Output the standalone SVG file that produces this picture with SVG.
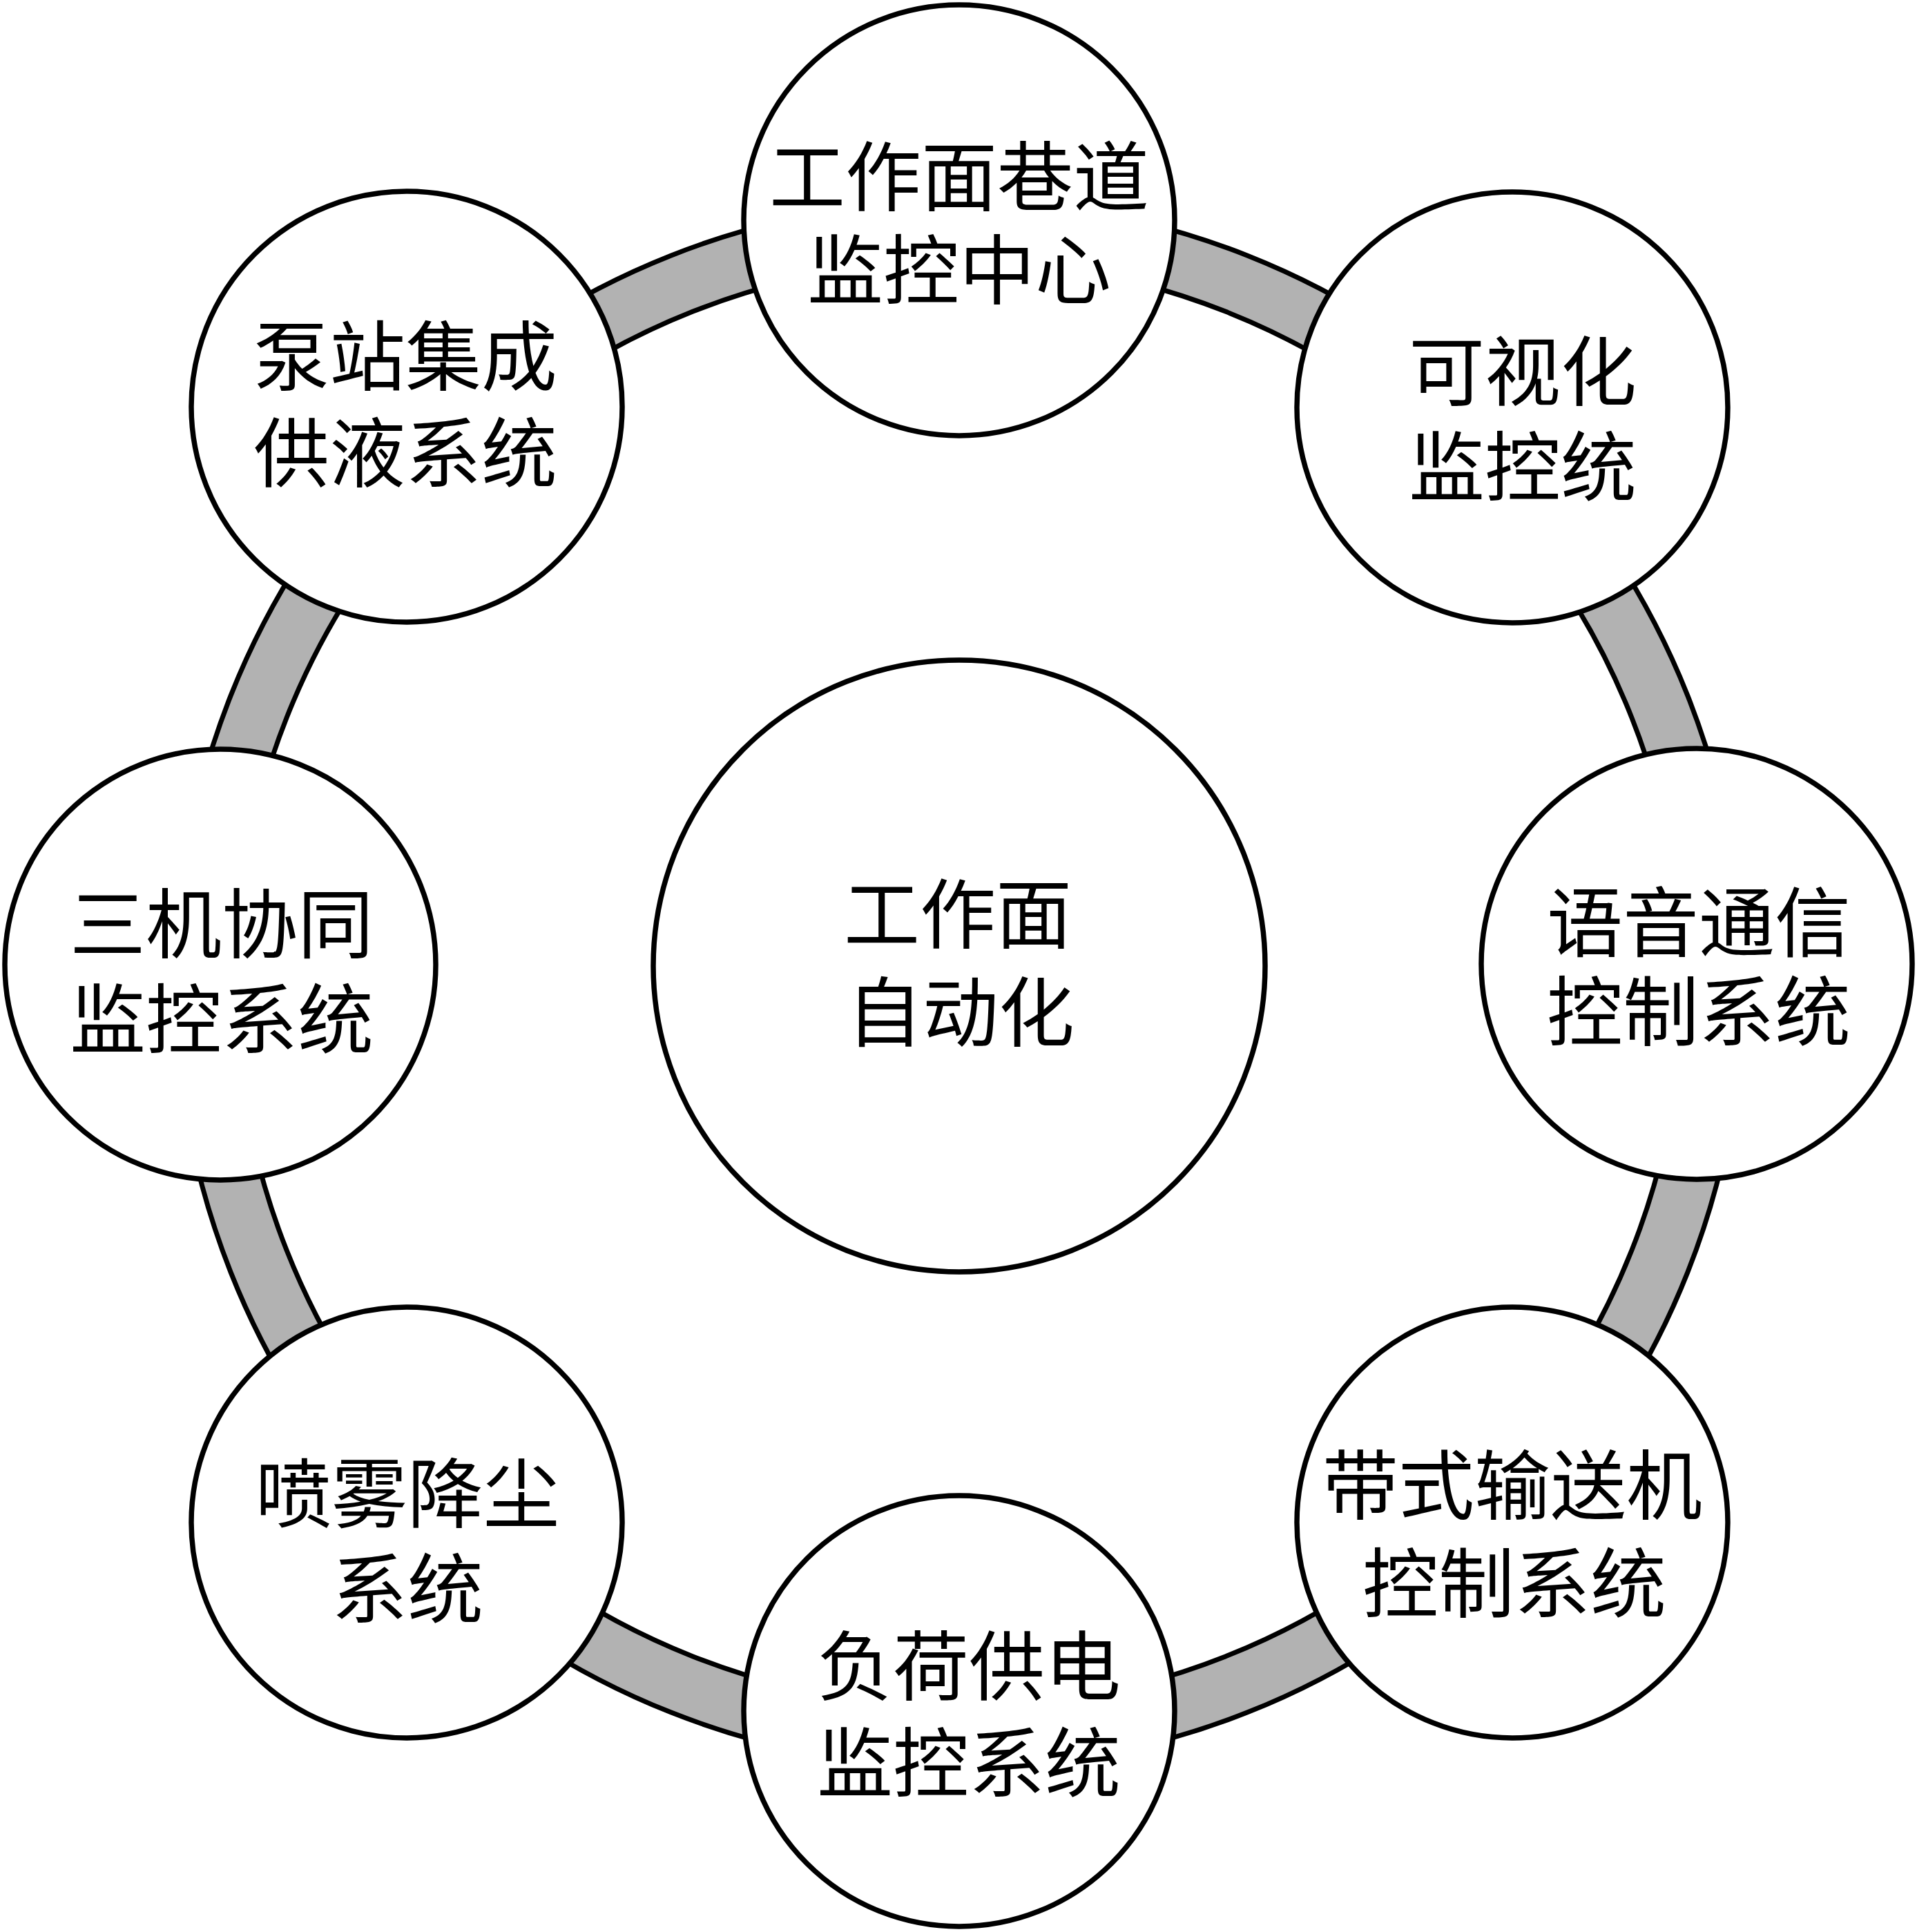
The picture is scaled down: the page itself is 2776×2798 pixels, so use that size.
<svg xmlns="http://www.w3.org/2000/svg" width="2776" height="2798" viewBox="0 0 2776 2798">
<style>
.node circle{fill:#ffffff;stroke:#000000;stroke-width:7.5}
text{font-family:"Liberation Serif","Noto Sans CJK SC","Noto Sans CJK TC",serif;font-size:110px;text-anchor:middle;fill:#000000}
</style>
<rect x="0" y="0" width="2776" height="2798" fill="#ffffff"/>
<g id="connectors">
<circle cx="1389" cy="1425" r="1091" fill="none" stroke="#000000" stroke-width="94"/>
<circle cx="1389" cy="1425" r="1091" fill="none" stroke="#b2b2b2" stroke-width="80"/>
</g>
<g id="node-center" class="node">
<circle cx="1389" cy="1399" r="443"/>
<text><tspan x="1387" y="1365">工作面</tspan><tspan x="1391" y="1507">自动化</tspan></text>
</g>
<g id="node-top" class="node">
<circle cx="1389" cy="319" r="312"/>
<text><tspan x="1389" y="297">工作面巷道</tspan><tspan x="1389" y="432">监控中心</tspan></text>
</g>
<g id="node-top-right" class="node">
<circle cx="2190" cy="590" r="312"/>
<text><tspan x="2205" y="579">可视化</tspan><tspan x="2205" y="717">监控统</tspan></text>
</g>
<g id="node-right" class="node">
<circle cx="2457" cy="1396" r="312"/>
<text><tspan x="2460" y="1377">语音通信</tspan><tspan x="2460" y="1506">控制系统</tspan></text>
</g>
<g id="node-bottom-right" class="node">
<circle cx="2190" cy="2205" r="312"/>
<text><tspan x="2190" y="2192">带式输送机</tspan><tspan x="2193" y="2334">控制系统</tspan></text>
</g>
<g id="node-bottom" class="node">
<circle cx="1389" cy="2478" r="312"/>
<text><tspan x="1403" y="2454">负荷供电</tspan><tspan x="1403" y="2594">监控系统</tspan></text>
</g>
<g id="node-bottom-left" class="node">
<circle cx="589" cy="2205" r="312"/>
<text><tspan x="590" y="2204">喷雾降尘</tspan><tspan x="590" y="2342">系统</tspan></text>
</g>
<g id="node-left" class="node">
<circle cx="319" cy="1397" r="312"/>
<text><tspan x="321" y="1379">三机协同</tspan><tspan x="321" y="1517">监控系统</tspan></text>
</g>
<g id="node-top-left" class="node">
<circle cx="589" cy="589" r="312"/>
<text><tspan x="587" y="557">泵站集成</tspan><tspan x="587" y="697">供液系统</tspan></text>
</g>
</svg>
